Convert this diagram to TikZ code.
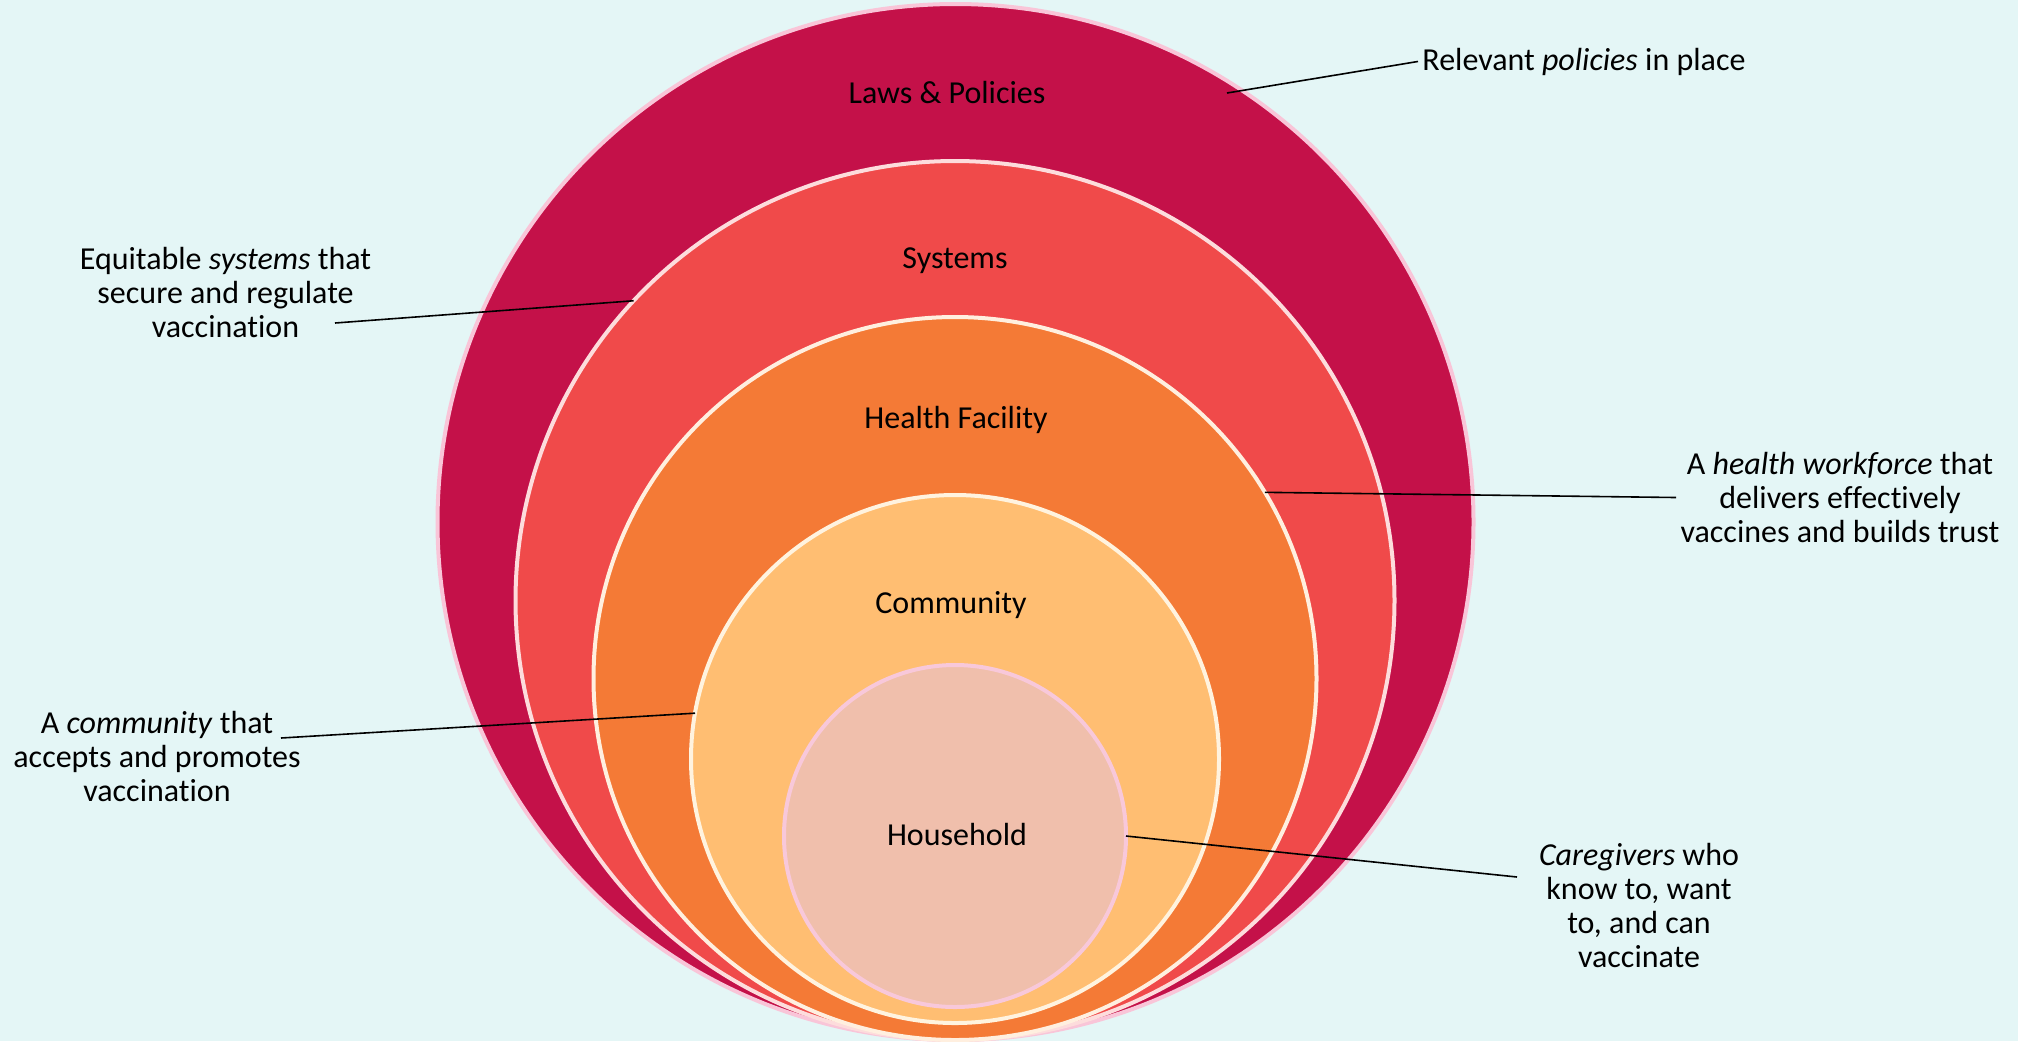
\documentclass[tikz,border=0pt]{standalone}
\usepackage{fontspec}
\setmainfont{Carlito}[Ligatures={NoCommon,NoContextual}, RawFeature={-liga;-clig;-calt}]
\definecolor{bgcyan}{HTML}{E4F6F6}
\definecolor{lawsfill}{HTML}{C41149}
\definecolor{lawsline}{HTML}{F9C5D8}
\definecolor{sysfill}{HTML}{F04A4A}
\definecolor{sysline}{HTML}{FDDCDC}
\definecolor{hffill}{HTML}{F47A36}
\definecolor{hfline}{HTML}{FFEFDF}
\definecolor{comfill}{HTML}{FFBE72}
\definecolor{comline}{HTML}{FFF3DF}
\definecolor{hhfill}{HTML}{F0BFAC}
\definecolor{hhline}{HTML}{F8C8DA}

\begin{document}
\begin{tikzpicture}[x=0.5pt, y=-0.5pt,
    ring/.style={circle, inner sep=0pt, outer sep=0pt, line width=2pt},
    note/.style={align=center, inner sep=2pt, font=\fontsize{16}{17}\selectfont}]
        \useasboundingbox (0,0) rectangle (2018,1041);
        \fill[bgcyan] (0,0) rectangle (2018,1041);

        % nested rings
        \node[ring, fill=lawsfill, draw=lawsline, minimum size=518pt] (lp) at (955.5,522) {};
        \node[ring, fill=sysfill, draw=sysline, minimum size=439.5pt] (sys) at (955,600.5) {};
        \node[ring, fill=hffill, draw=hfline, minimum size=361.5pt] (hf) at (955,678.5) {};
        \node[ring, fill=comfill, draw=comline, minimum size=264pt] (com) at (955,759) {};
        \node[ring, fill=hhfill, draw=hhline, minimum size=171pt] (hh) at (955,836) {};

        \node[note, anchor=base] (lpt) at (947,103) {Laws \& Policies};
        \node[note, anchor=base] (syst) at (955,268) {Systems};
        \node[note, anchor=base] (hft) at (956,428) {Health Facility};
        \node[note, anchor=base] (comt) at (951,613) {Community};
        \node[note, anchor=base] (hht) at (957,845) {Household};

        % side notes
        \node[note, anchor=base west] (pol) at (1418,70) {Relevant \textit{policies} in place};
        \node[note] (eqs) at (225.5,292) {Equitable \textit{systems} that\\secure and regulate\\vaccination};
        \node[note] (hwf) at (1840,497.5) {A \textit{health workforce} that\\delivers effectively\\vaccines and builds trust};
        \node[note] (cmt) at (157,756) {A \textit{community} that\\accepts and promotes\\vaccination};
        \node[note] (cgv) at (1639,905) {\textit{Caregivers} who\\know to, want\\to, and can\\vaccinate};

        \coordinate (polend) at (1227,93);
        \coordinate (eqsend) at (335,323);
        \coordinate (cmtend) at (281,738);
        \coordinate (cgvend) at (1517,877);

        \path[thick]
        (polend) edge (pol.west)
        (eqsend) edge (sys.137)
        (hf.31) edge (hwf.west)
        (cmtend) edge (com.170)
        (hh.0) edge (cgvend);
    \end{tikzpicture}
\end{document}
